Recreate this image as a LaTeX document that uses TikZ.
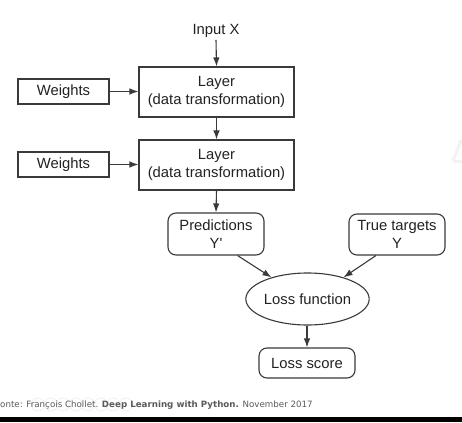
\documentclass[tikz,border=0pt]{standalone}
\usepackage{fontspec}
\setmainfont{Liberation Sans}[Ligatures=TeXOff]
\newfontfamily\capfont{DejaVu Sans}
\usetikzlibrary{arrows.meta,shapes.geometric,calc}
\definecolor{linec}{HTML}{3A3A3A}
\definecolor{textc}{HTML}{222222}
\definecolor{capc}{HTML}{5A5A5A}
\tikzset{
  box/.style={draw=linec, line width=1.1pt, rectangle, text=textc, align=center, inner sep=0pt, font=\fontsize{14.8}{18}\selectfont},
  rbox/.style={box, rounded corners=8pt},
  oval/.style={draw=linec, line width=1.1pt, ellipse, text=textc, inner sep=0pt, font=\fontsize{14.8}{18}\selectfont},
  conn/.style={draw=linec, line width=1.1pt, -{Latex[length=9pt,width=6.5pt]}},
  faint/.style={draw=gray!12, line width=0.8pt}
}
\begin{document}
\begin{tikzpicture}[x=1pt,y=-1pt]
\useasboundingbox (0,0) rectangle (462,422);
\fill[white] (0,0) rectangle (462,422);
% watermark fragment
\draw[gray!10, line width=3pt] (453,161) -- (461,140);
\draw[gray!10, line width=3pt] (453,161) -- (462,161);
% nodes
\node[text=textc, font=\fontsize{14.8}{18}\selectfont, inner sep=2pt] (input) at (216,31) {Input X};
\node[box, minimum width=155pt, minimum height=50pt] (L1) at (216.5,92) {Layer\\(data transformation)};
\node[box, minimum width=91pt, minimum height=25pt] (W1) at (63.5,91.5) {Weights};
\node[box, minimum width=155pt, minimum height=50pt] (L2) at (216.5,165) {Layer\\(data transformation)};
\node[box, minimum width=91pt, minimum height=25pt] (W2) at (63.5,164.5) {Weights};
\node[rbox, minimum width=96pt, minimum height=42pt] (pred) at (216,234) {Predictions\\Y'};
\node[rbox, minimum width=96pt, minimum height=41pt] (true) at (397,234.5) {True targets\\Y};
\node[oval, minimum width=122pt, minimum height=52pt] (loss) at (307.5,299) {Loss function};
\node[rbox, minimum width=96pt, minimum height=30pt] (score) at (307,363) {Loss score};
% connectors
\draw[conn] (input.south) -- (L1.north);
\draw[conn] (W1.east) -- (L1.west |- W1.east);
\draw[conn] (L1.south) -- (L2.north);
\draw[conn] (W2.east) -- (L2.west |- W2.east);
\draw[conn] (L2.south) -- (pred.north);
\draw[conn] (pred.-45) -- (loss.149);
\draw[conn] (true.-135) -- (loss.31);
\draw[conn] (loss.south -| score.north) -- (score.north);
% caption
\foreach \cx in {38,51,63,76,88,101,113,126} \draw[faint] (\cx,404.5) circle (6.5pt);
\node[anchor=base west, inner sep=0pt, text=capc, font=\capfont\fontsize{8.7}{10}\selectfont] (cap) at (0,407.5) {onte: François Chollet. \textbf{Deep Learning with Python.} November 2017};
% bottom bar
\fill[black] (0,417) rectangle (462,422);
\end{tikzpicture}
\end{document}
